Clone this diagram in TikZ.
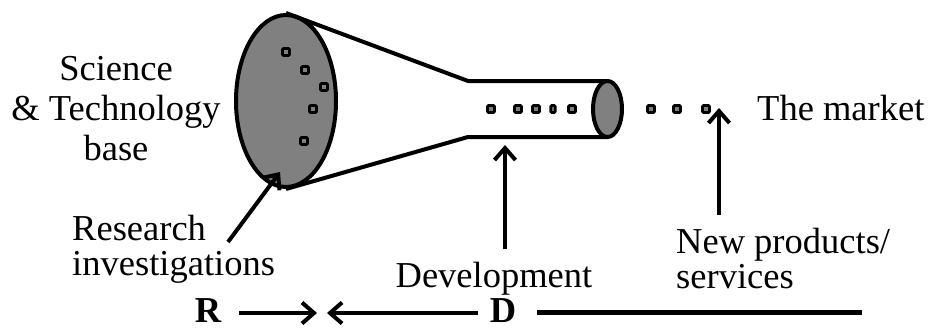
\documentclass[tikz,border=0pt]{standalone}
\usepackage{fontspec}
\setmainfont{Liberation Serif}
\usetikzlibrary{arrows.meta,shapes.geometric}

\tikzset{
  lbl/.style={font=\fontsize{36.5}{35}\selectfont, inner sep=0pt},
  tube/.style={draw, fill=gray, ellipse, line width=4pt, inner sep=0pt},
  dot/.style={draw, fill=gray, line width=2.8pt, minimum size=7pt, inner sep=0pt, rounded corners=1.2pt},
  pointer/.style={line width=4pt, -{Straight Barb[length=12pt,width=21pt,line width=4pt]}},
}

\begin{document}
\begin{tikzpicture}[x=1pt,y=-1pt]
  \useasboundingbox (0,0) rectangle (931,329);
  % the funnel
  \node[tube, minimum width=100pt, minimum height=172pt] (mouth) at (286,101) {};
  \coordinate (neck1) at (468,81);
  \coordinate (neck2) at (468,137);
  \draw[line width=4pt, line join=round] (mouth.north) -- (neck1) -- (607.5,81);
  \draw[line width=4pt, line join=round] (mouth.south) -- (neck2) -- (607.5,137);
  \node[tube, minimum width=29pt, minimum height=56pt] (outlet) at (607.5,109) {};
  % ideas moving through
  \foreach \x/\y [count=\i] in {286/52, 305/70, 324/87, 313/109, 304/141}
    \node[dot] (idea\i) at (\x,\y) {};
  \foreach \x [count=\i] in {491, 518, 536, 572, 651, 677, 706}
    \node[dot] (flow\i) at (\x,109) {};
  \node[dot, minimum width=4.5pt] (flow8) at (553,109) {};
  % labels
  \node[lbl, font=\fontsize{36.5}{40}\selectfont, align=center, anchor=base] (base) at (116,160) {Science\\\& Technology\\base};
  \node[lbl, anchor=base west] (market) at (757,120) {The market};
  \node[lbl, align=left, anchor=base west] (research) at (72,275) {Research\\investigations};
  \node[lbl, anchor=base] (dev) at (494,287) {Development};
  \node[lbl, align=left, anchor=base west] (products) at (676,288) {New products/\\services};
  \node[lbl, font=\fontsize{36.5}{35}\selectfont\bfseries, anchor=base] (R) at (208,322) {R};
  \node[lbl, font=\fontsize{36.5}{35}\selectfont\bfseries, anchor=base] (D) at (503,322) {D};
  % pointers
  \coordinate (restail) at (228,242);
  \coordinate (restip) at (280,172);
  \coordinate (devtip) at (505,145);
  \coordinate (mkttip) at (719,108);
  \coordinate (meet) at (322,313);
  \coordinate (lineend) at (862,312);
  \draw[pointer] (restail) -- (restip);
  \draw[pointer] (devtip |- dev.north) ++(0,-12) -- (devtip);
  \draw[pointer] (mkttip |- products.north) ++(0,-12) -- (mkttip);
  \draw[pointer, shorten >=5pt] (R.east |- meet) ++(18,0) -- (meet);
  \draw[pointer, shorten >=5pt] (D.west |- meet) ++(-12,0) -- (meet);
  \draw[line width=5pt] (D.east |- lineend) ++(21,0) -- (lineend);
\end{tikzpicture}
\end{document}
